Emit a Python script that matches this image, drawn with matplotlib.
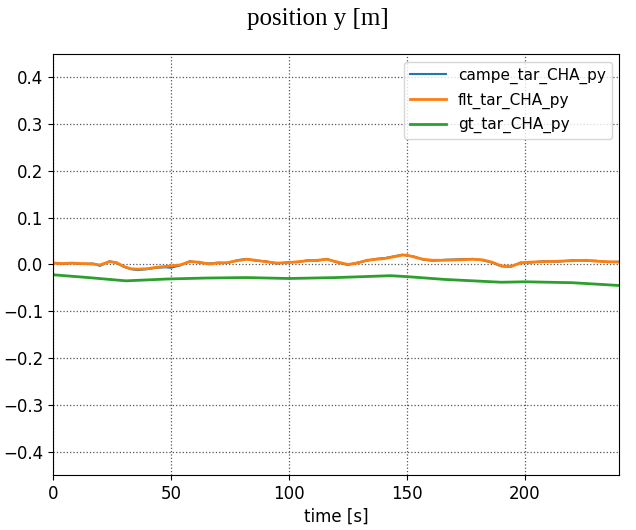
import numpy as np
import matplotlib.pyplot as plt

# time stamps [s] of the sampled target positions
t = [0, 4, 8, 12, 17, 20, 24, 27, 30, 33, 36, 40, 44, 48, 50, 54, 58, 62, 66,
     70, 74, 78, 82, 86, 90, 95, 100, 104, 108, 112, 116, 120, 125, 129, 133,
     137, 141, 145, 148, 150, 153, 157, 161, 166, 172, 178, 182, 186, 190,
     194, 198, 202, 208, 214, 220, 226, 230, 235, 240]

# filtered target y position [m]
flt_y = [0.003, 0.002, 0.003, 0.002, 0.001, -0.001, 0.006, 0.004, -0.004,
         -0.009, -0.010, -0.009, -0.006, -0.004, -0.003, -0.001, 0.006, 0.005,
         0.001, 0.003, 0.004, 0.008, 0.011, 0.009, 0.006, 0.003, 0.004, 0.006,
         0.008, 0.009, 0.011, 0.006, 0.000, 0.003, 0.009, 0.011, 0.013, 0.017,
         0.020, 0.020, 0.016, 0.011, 0.009, 0.009, 0.010, 0.011, 0.010, 0.005,
         -0.003, -0.004, 0.003, 0.005, 0.006, 0.007, 0.008, 0.009, 0.007,
         0.006, 0.005]

# camera-based target y position [m]
campe_y = [0.004, 0.001, 0.003, 0.001, 0.002, -0.003, 0.007, 0.003, -0.005,
           -0.010, -0.012, -0.010, -0.007, -0.006, -0.007, -0.002, 0.007,
           0.004, 0.002, 0.004, 0.003, 0.009, 0.012, 0.008, 0.007, 0.002,
           0.005, 0.005, 0.009, 0.008, 0.012, 0.005, -0.001, 0.004, 0.008,
           0.012, 0.014, 0.018, 0.021, 0.019, 0.017, 0.010, 0.008, 0.010,
           0.011, 0.012, 0.009, 0.004, -0.004, -0.005, 0.004, 0.004, 0.007,
           0.006, 0.009, 0.008, 0.008, 0.005, 0.006]

# ground truth samples
t_gt = [0, 15, 31, 49, 65, 82, 100, 120, 143, 150, 166, 190, 200, 220, 240]
gt_y = [-0.022, -0.028, -0.035, -0.031, -0.029, -0.028, -0.030, -0.028,
        -0.024, -0.026, -0.032, -0.038, -0.037, -0.039, -0.045]

fig = plt.figure(figsize=(6.36, 5.30), dpi=100)
ax = fig.add_axes([0.083, 0.104, 0.891, 0.794])

ax.plot(t, campe_y, color="#1f77b4", linewidth=1.5, label="campe_tar_CHA_py")
ax.plot(t, flt_y, color="#ff7f0e", linewidth=2.0, label="flt_tar_CHA_py")
ax.plot(t_gt, gt_y, color="#2ca02c", linewidth=2.0, label="gt_tar_CHA_py")

ax.set_xlim(0, 240)
ax.set_ylim(-0.45, 0.45)
ax.set_xticks([0, 50, 100, 150, 200])
ax.set_yticks(np.linspace(-0.4, 0.4, 9))
ax.tick_params(labelsize=12)
ax.grid(True, color="#555555", linestyle=":", linewidth=0.9)
ax.set_xlabel("time [s]", fontsize=12)

ax.legend(loc="upper right", fontsize=11, handlelength=2.3,
          handletextpad=0.8, borderaxespad=0.5, labelspacing=0.55)

fig.text(0.5, 0.965, "position y [m]", ha="center", va="center",
         family="Liberation Serif", fontsize=18)

fig.savefig("out.png", dpi=100)
